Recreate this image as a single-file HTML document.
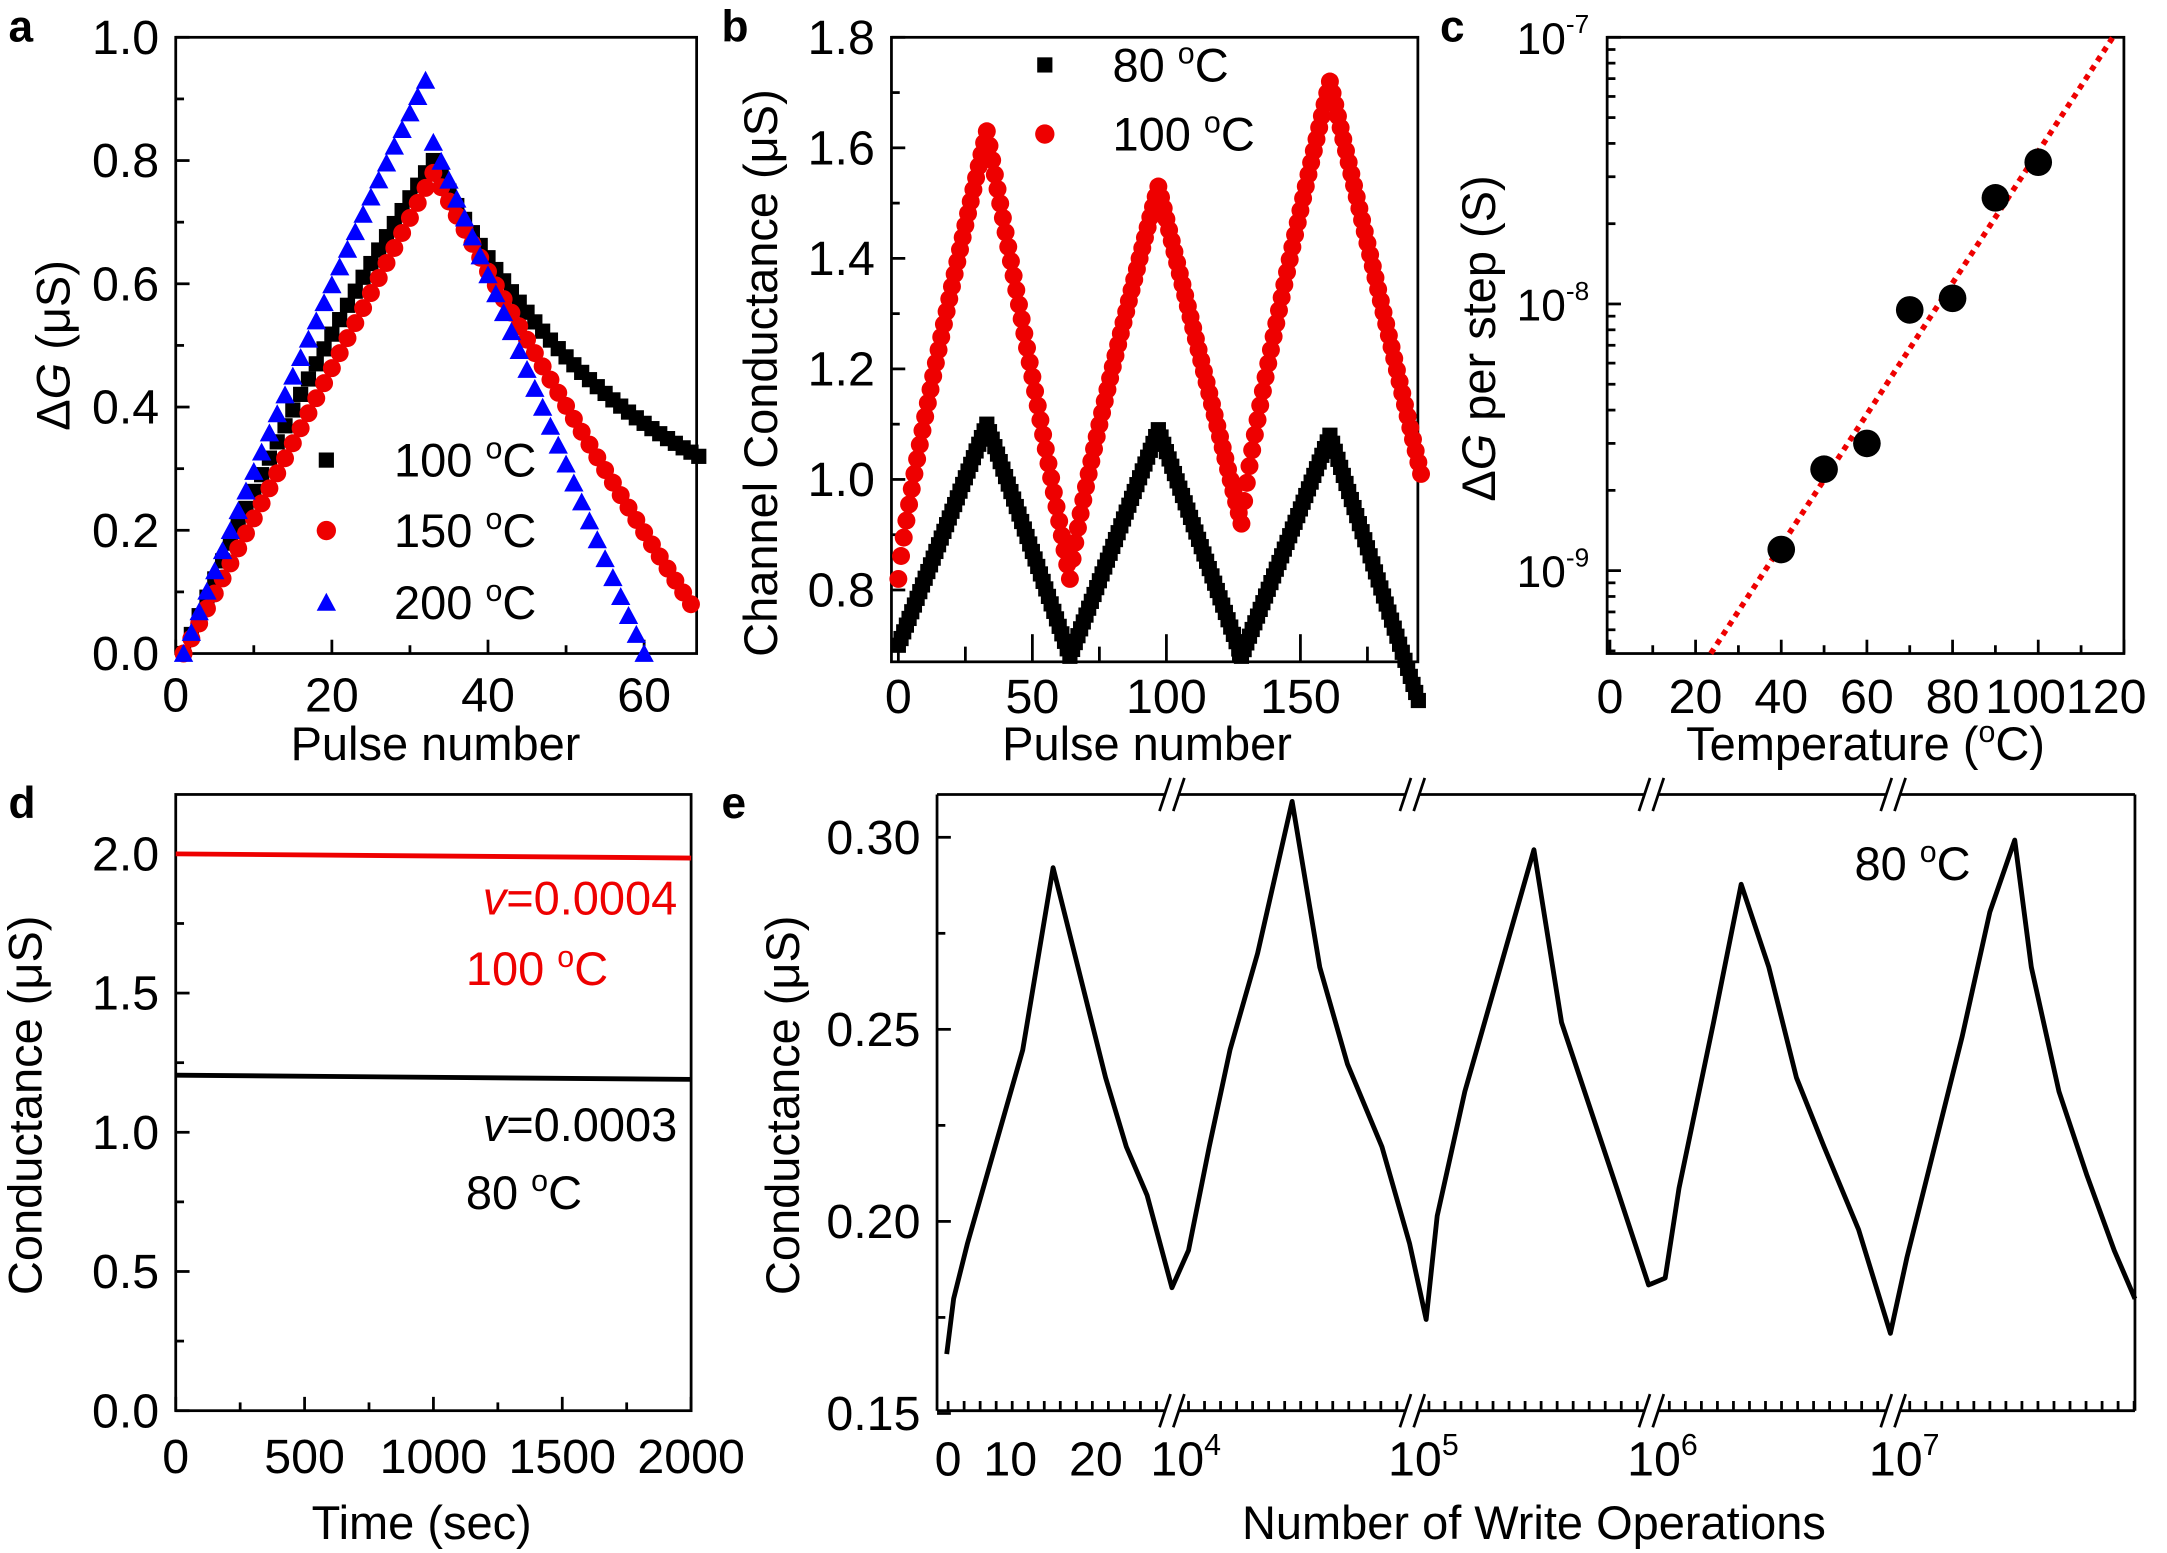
<!DOCTYPE html>
<html><head><meta charset="utf-8"><style>
html,body{margin:0;padding:0;background:#fff;}
svg{display:block;}
text{font-family:"Liberation Sans",Arial,sans-serif;fill:#000;}
</style></head><body>
<svg id="s" width="2167" height="1553" viewBox="0 0 1568 1124" xmlns="http://www.w3.org/2000/svg"></svg>
<script>
const S=document.getElementById('s');let h='';const FS=35,TS=34;
function T(x,y,t,sz,anc,extra){h+=`<text x="${x}" y="${y}" font-size="${sz||FS}" text-anchor="${anc||'middle'}" ${extra||''}>${t}</text>`;}
function box(x0,y0,x1,y1){h+=`<rect x="${x0}" y="${y0}" width="${x1-x0}" height="${y1-y0}" fill="none" stroke="#000" stroke-width="2"/>`;}
function tk(x1,y1,x2,y2){h+=`<line x1="${x1}" y1="${y1}" x2="${x2}" y2="${y2}" stroke="#000" stroke-width="2"/>`;}
function sq(x,y,c){h+=`<rect x="${x-5.5}" y="${y-5.5}" width="11" height="11" fill="${c}"/>`;}
function ci(x,y,c,r){h+=`<circle cx="${x}" cy="${y}" r="${r||6.5}" fill="${c}"/>`;}
function tr(x,y,c){h+=`<polygon points="${x},${y-7} ${x-7},${y+6} ${x+7},${y+6}" fill="${c}"/>`;}
const deg=(t)=>`${t} <tspan dy="-13" font-size="22">o</tspan><tspan dy="13">C</tspan>`;
// ---------- panel a
{const L=127,R=504,Tp=27,B=473;const X=v=>127+v*5.65,Y=v=>473-v*446;
box(L,Tp,R,B);
for(let v=0;v<=1.001;v+=0.1){const y=Y(v);const maj=Math.round(v*10)%2==0;tk(L,y,L+(maj?10:6),y);if(maj)T(L-12,y+12,v.toFixed(1),FS,'end');}
for(let v=0;v<=66;v+=10){const x=X(v);const maj=v%20==0;tk(x,B,x,B-(maj?10:6));if(maj)T(x,B+42,v);}
T(315,550,'Pulse number',TS);
h+=`<text transform="translate(50,250) rotate(-90)" font-size="${TS}" text-anchor="middle">Δ<tspan font-style="italic">G</tspan> (μS)</text>`;
for(let n=1;n<=67;n++){let m=n-1,v;if(m<=32)v=0.8*(1-Math.exp(-m/70))/(1-Math.exp(-32/70));else{let k=m-32;v=0.8-0.48*(1-Math.exp(-k/25))/(1-Math.exp(-34/25));}sq(X(n),Y(v),'#000');}
for(let n=1;n<=66;n++){let m=n-1,v;if(m<=32)v=0.78*m/32;else{let k=m-32;v=0.78-0.70*(k/33)*(1.1-0.1*k/33);}ci(X(n),Y(v),'#e00');}
for(let n=1;n<=60;n++){let m=n-1,v;if(m<=31)v=0.93*(1-Math.exp(-m/120))/(1-Math.exp(-31/120));else{let k=m-31;v=0.86-0.86*k/28;}tr(X(n),Y(v),'#00f');}
sq(236,333,'#000');T(285,345,deg('100'),TS,'start');
ci(236,384,'#e00',7);T(285,396,deg('150'),TS,'start');
tr(236,436,'#00f');T(285,448,deg('200'),TS,'start');
T(6,30,'a',32,'start','font-weight="bold"');}
// ---------- panel b
{const L=645,R=1026,Tp=27,B=479;const X=v=>650+v*1.94,Y=v=>347-(v-1)*400;
box(L,Tp,R,B);
for(let v=0.7;v<=1.801;v+=0.1){const y=Y(v);const maj=Math.round(v*10)%2==0;tk(L,y,L+(maj?10:6),y);if(maj)T(L-12,y+12,v.toFixed(1),FS,'end');}
for(let v=0;v<=175;v+=25){const x=X(v);const maj=v%50==0;tk(x,B,x,B-(maj?20:11));}
for(let v=0;v<=150;v+=50)T(X(v),516,v);
T(830,550,'Pulse number',TS);
h+=`<text transform="translate(562,270) rotate(-90)" font-size="${TS}" text-anchor="middle">Channel Conductance (μS)</text>`;
const bk=[[0,0.7],[33,1.1],[64,0.68],[97,1.09],[128,0.68],[161,1.08],[194,0.6]];
for(let n=0;n<=194;n++){let i=0;while(i<bk.length-2&&n>bk[i+1][0])i++;const [a,va]=bk[i],[b,vb]=bk[i+1];let t=(n-a)/(b-a);let v=va+(vb-va)*t;sq(X(n),Y(v),'#000');}
const rk=[[0,0.82],[33,1.63],[64,0.82],[97,1.53],[128,0.92],[161,1.72],[195,1.01]];
for(let n=0;n<=195;n++){let i=0;while(i<rk.length-2&&n>rk[i+1][0])i++;const [a,va]=rk[i],[b,vb]=rk[i+1];let t=(n-a)/(b-a);let v=va+(vb-va)*(vb>va?Math.pow(t,0.85):t);ci(X(n),Y(v),'#e00');}
sq(756,47,'#000');T(805,59,deg('80'),TS,'start');
ci(756,97,'#e00',7);T(805,109,deg('100'),TS,'start');
T(522,30,'b',32,'start','font-weight="bold"');}
// ---------- panel c
{const L=1163,R=1537,Tp=27,B=473;const X=v=>1165+v*3.1,Y=v=>27-(Math.log10(v)+7)*193;
box(L,Tp,R,B);
for(let d=-10;d<=-7;d++){for(let k=1;k<10;k++){const y=Y(k*Math.pow(10,d));if(y<Tp-0.5||y>B)continue;tk(L,y,L+(k==1?10:6),y);}}
[[-7,27],[-8,220],[-9,413]].forEach(([e,y])=>T(1150,y+12,`10<tspan dy="-15" font-size="19">${e}</tspan>`,32,'end'));
for(let v=0;v<=120;v+=10){const x=X(v);const maj=v%20==0;tk(x,B,x,B-(maj?10:6));}
[0,20,40,60,80].forEach(v=>T(X(v),516,v));T(1495,516,'100120');
T(1350,550,'Temperature (<tspan dy="-13" font-size="22">o</tspan><tspan dy="13">C)</tspan>',TS);
h+=`<text transform="translate(1082,245) rotate(-90)" font-size="${TS}" text-anchor="middle">Δ<tspan font-style="italic">G</tspan> per step (S)</text>`;
h+=`<line x1="1238" y1="473" x2="1529" y2="27" stroke="#e00" stroke-width="4" stroke-dasharray="4,4"/>`;
[[40,1.2e-9],[50,2.4e-9],[60,3e-9],[70,9.5e-9],[80,1.05e-8],[90,2.5e-8],[100,3.4e-8]].forEach(([t,v])=>ci(X(t),Y(v),'#000',10));
T(1042,30,'c',32,'start','font-weight="bold"');}
// ---------- panel d
{const L=127,R=500,Tp=575,B=1021;const X=v=>127+v*0.1865,Y=v=>1021-v*201.5;
box(L,Tp,R,B);
for(let v=0;v<=2.001;v+=0.25){const y=Y(v);const maj=Math.round(v*4)%2==0;tk(L,y,L+(maj?10:6),y);if(maj)T(L-12,y+12,v.toFixed(1),FS,'end');}
for(let v=0;v<=2000;v+=250){const x=X(v);const maj=v%500==0;tk(x,B,x,B-(maj?10:6));if(maj)T(x,1066,v);}
T(305,1114,'Time (sec)',TS);
h+=`<text transform="translate(30,800) rotate(-90)" font-size="${TS}" text-anchor="middle">Conductance (μS)</text>`;
h+=`<line x1="${L}" y1="${Y(2.0)}" x2="${R}" y2="${Y(1.985)}" stroke="#e00" stroke-width="3.5"/>`;
h+=`<line x1="${L}" y1="${Y(1.205)}" x2="${R}" y2="${Y(1.19)}" stroke="#000" stroke-width="3.5"/>`;
h+=`<text x="490" y="662" font-size="${TS}" text-anchor="end" style="fill:#e00"><tspan font-style="italic" style="fill:#e00">v</tspan>=0.0004</text>`;
h+=`<text x="337" y="713" font-size="${TS}" style="fill:#e00">100 <tspan dy="-13" font-size="22" style="fill:#e00">o</tspan><tspan dy="13" style="fill:#e00">C</tspan></text>`;
h+=`<text x="490" y="826" font-size="${TS}" text-anchor="end"><tspan font-style="italic">v</tspan>=0.0003</text>`;
T(337,875,deg('80'),TS,'start');
T(6,592,'d',32,'start','font-weight="bold"');}
// ---------- panel e
{const L=678,R=1545,Tp=575,B=1021;const Y=v=>606+(0.30-v)*2780;
h+=`<line x1="${L}" y1="${Tp}" x2="${L}" y2="${B}" stroke="#000" stroke-width="2"/><line x1="${R}" y1="${Tp}" x2="${R}" y2="${B}" stroke="#000" stroke-width="2"/>`;
const brk=[848,1022,1195,1370];let segs=[L,...brk,R];
for(let i=0;i<segs.length-1;i++){const a=segs[i]+(i?5:0),b=segs[i+1]-(i<segs.length-2?5:0);tk(a,Tp,b,Tp);tk(a,B,b,B);}
brk.forEach(x=>{[Tp,B].forEach(y=>{h+=`<line x1="${x-9}" y1="${y+12}" x2="${x-1}" y2="${y-12}" stroke="#000" stroke-width="2"/><line x1="${x+1}" y1="${y+12}" x2="${x+9}" y2="${y-12}" stroke="#000" stroke-width="2"/>`;});});
for(let v=0.15;v<=0.3101;v+=0.025){const y=Y(v);const maj=Math.round(v*40)%2==0;tk(L,y,L+(maj?10:6),y);if(maj)T(L-12,y+12,v.toFixed(2),FS,'end');}
for(let x=686;x<R;x+=11.6){if(brk.some(b=>Math.abs(b-x)<6))continue;tk(x,B,x,B-7);}
[[686,'0'],[731,'10'],[793,'20']].forEach(([x,t])=>T(x,1068,t));
[[858,4],[1030,5],[1203,6],[1378,7]].forEach(([x,e])=>T(x,1068,`10<tspan dy="-15" font-size="22">${e}</tspan>`));
T(1110,1114,'Number of Write Operations',TS);
h+=`<text transform="translate(578,800) rotate(-90)" font-size="${TS}" text-anchor="middle">Conductance (μS)</text>`;
const P=[[685,980],[690,940],[700,900],[720,830],[740,760],[762,628],[780,700],[800,780],[815,830],[830,865],[848,932],[860,905],[875,830],[890,760],[910,690],[935,580],[955,700],[975,770],[1000,830],[1020,900],[1032,955],[1040,880],[1060,790],[1080,720],[1110,615],[1130,740],[1150,800],[1170,860],[1193,930],[1205,925],[1215,860],[1240,740],[1260,640],[1280,700],[1300,780],[1320,830],[1345,890],[1368,965],[1380,910],[1400,830],[1420,750],[1440,660],[1458,608],[1470,700],[1490,790],[1510,850],[1530,905],[1545,940]];
h+=`<polyline points="${P.map(p=>p.join(',')).join(' ')}" fill="none" stroke="#000" stroke-width="3.5" stroke-linejoin="round"/>`;
T(1342,637,deg('80'),TS,'start');
T(522,592,'e',32,'start','font-weight="bold"');}
S.innerHTML=h;
</script>
</body></html>
